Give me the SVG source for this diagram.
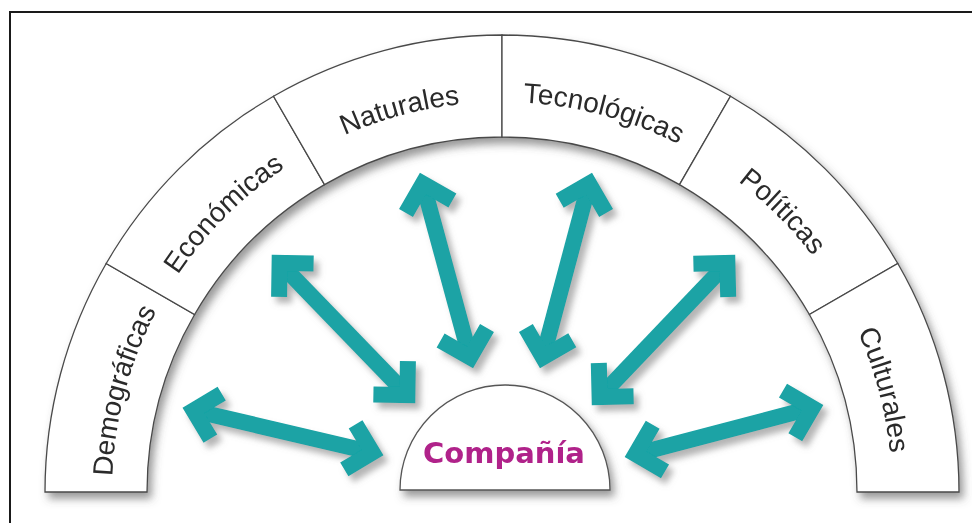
<svg xmlns="http://www.w3.org/2000/svg" width="972" height="523" viewBox="0 0 972 523">
<style>
.seg{fill:#fff;stroke:#4a4a4a;stroke-width:1.3}
.lbl{font-family:"Liberation Sans",Arial,sans-serif;font-size:28px;fill:#2a2a2a}
.arr{fill:none;stroke:#1aa3a5;stroke-width:16;stroke-linejoin:miter;stroke-miterlimit:10;stroke-linecap:butt}
.co{font-family:"DejaVu Sans",Verdana,sans-serif;font-weight:bold;font-size:29px;fill:#b0238a}
</style>
<defs>
<filter id="sh" x="-10%" y="-10%" width="130%" height="130%">
<feDropShadow dx="4" dy="6" stdDeviation="4.5" flood-color="#555" flood-opacity="0.6"/>
</filter>
<filter id="sha" x="-20%" y="-20%" width="150%" height="150%">
<feDropShadow dx="5" dy="6" stdDeviation="3" flood-color="#777" flood-opacity="0.55"/>
</filter>
<path id="p1" d="M113.5 526 A390 390 0 0 1 182.5 268.3"/>
<path id="p2" d="M148.5 327.2 A390 390 0 0 1 337.2 138.5"/>
<path id="p3" d="M278.3 172.5 A390 390 0 0 1 536 103.5"/>
<path id="p4" d="M468 103.5 A390 390 0 0 1 725.7 172.5"/>
<path id="p5" d="M666.8 138.5 A390 390 0 0 1 855.5 327.2"/>
<path id="p6" d="M821.5 268.3 A390 390 0 0 1 890.5 526"/>
</defs>
<rect width="972" height="523" fill="#fff"/>
<path d="M10 523 V12 H972" fill="none" stroke="#1a1a1a" stroke-width="2"/>
<g id="arch" filter="url(#sh)">
<g id="demograficas">
<path class="seg" d="M45 492 A457 457 0 0 1 106.2 263.5 L194.6 314.5 A355 355 0 0 0 147 492 Z"/>
<text class="lbl" text-anchor="middle"><textPath href="#p1" startOffset="50%">Demográficas</textPath></text>
</g>
<g id="economicas">
<path class="seg" d="M106.2 263.5 A457 457 0 0 1 273.5 96.2 L324.5 184.6 A355 355 0 0 0 194.6 314.5 Z"/>
<text class="lbl" text-anchor="middle"><textPath href="#p2" startOffset="50%">Económicas</textPath></text>
</g>
<g id="naturales">
<path class="seg" d="M273.5 96.2 A457 457 0 0 1 502 35 L502 137 A355 355 0 0 0 324.5 184.6 Z"/>
<text class="lbl" text-anchor="middle"><textPath href="#p3" startOffset="50%">Naturales</textPath></text>
</g>
<g id="tecnologicas">
<path class="seg" d="M502 35 A457 457 0 0 1 730.5 96.2 L679.5 184.6 A355 355 0 0 0 502 137 Z"/>
<text class="lbl" text-anchor="middle"><textPath href="#p4" startOffset="50%">Tecnológicas</textPath></text>
</g>
<g id="politicas">
<path class="seg" d="M730.5 96.2 A457 457 0 0 1 897.8 263.5 L809.4 314.5 A355 355 0 0 0 679.5 184.6 Z"/>
<text class="lbl" text-anchor="middle"><textPath href="#p5" startOffset="50%">Políticas</textPath></text>
</g>
<g id="culturales">
<path class="seg" d="M897.8 263.5 A457 457 0 0 1 959 492 L857 492 A355 355 0 0 0 809.4 314.5 Z"/>
<text class="lbl" text-anchor="middle"><textPath href="#p6" startOffset="50%">Culturales</textPath></text>
</g>
</g>
<g id="compania" filter="url(#sh)">
<path d="M400 490 A105 105 0 0 1 610 490 Z" fill="#fff" stroke="#555" stroke-width="1.3"/>
<text class="co" x="504" y="463" text-anchor="middle">Compañía</text>
</g>
<g id="connectors" filter="url(#sha)">
<g id="a1"><line class="arr" x1="193.5" y1="410.5" x2="372.5" y2="452.5"/><polyline class="arr" points="210.4,438.7 193.5,410.5 221.7,393.6"/><polyline class="arr" points="355.6,424.3 372.5,452.5 344.3,469.4"/></g>
<g id="a2"><line class="arr" x1="279.6" y1="262.9" x2="407.4" y2="395.1"/><polyline class="arr" points="279.1,296.9 279.6,262.9 313.6,263.5"/><polyline class="arr" points="407.9,361.1 407.4,395.1 373.4,394.5"/></g>
<g id="a3"><line class="arr" x1="422.9" y1="183.6" x2="470.1" y2="357.4"/><polyline class="arr" points="406,213.1 422.9,183.6 452.4,200.5"/><polyline class="arr" points="487,327.9 470.1,357.4 440.6,340.5"/></g>
<g id="a4"><line class="arr" x1="589.1" y1="183.7" x2="542.9" y2="357.3"/><polyline class="arr" points="559.7,200.7 589.1,183.7 606.1,213.1"/><polyline class="arr" points="572.3,340.3 542.9,357.3 525.9,327.9"/></g>
<g id="a5"><line class="arr" x1="727.4" y1="263" x2="599.6" y2="397"/><polyline class="arr" points="693.4,263.8 727.4,263 728.2,297"/><polyline class="arr" points="633.6,396.2 599.6,397 598.8,363"/></g>
<g id="a6"><line class="arr" x1="812.4" y1="407.8" x2="635.6" y2="454.2"/><polyline class="arr" points="783.0,390.7 812.4,407.8 795.3,437.2"/><polyline class="arr" points="665,471.3 635.6,454.2 652.7,424.8"/></g>
</g>
</svg>
